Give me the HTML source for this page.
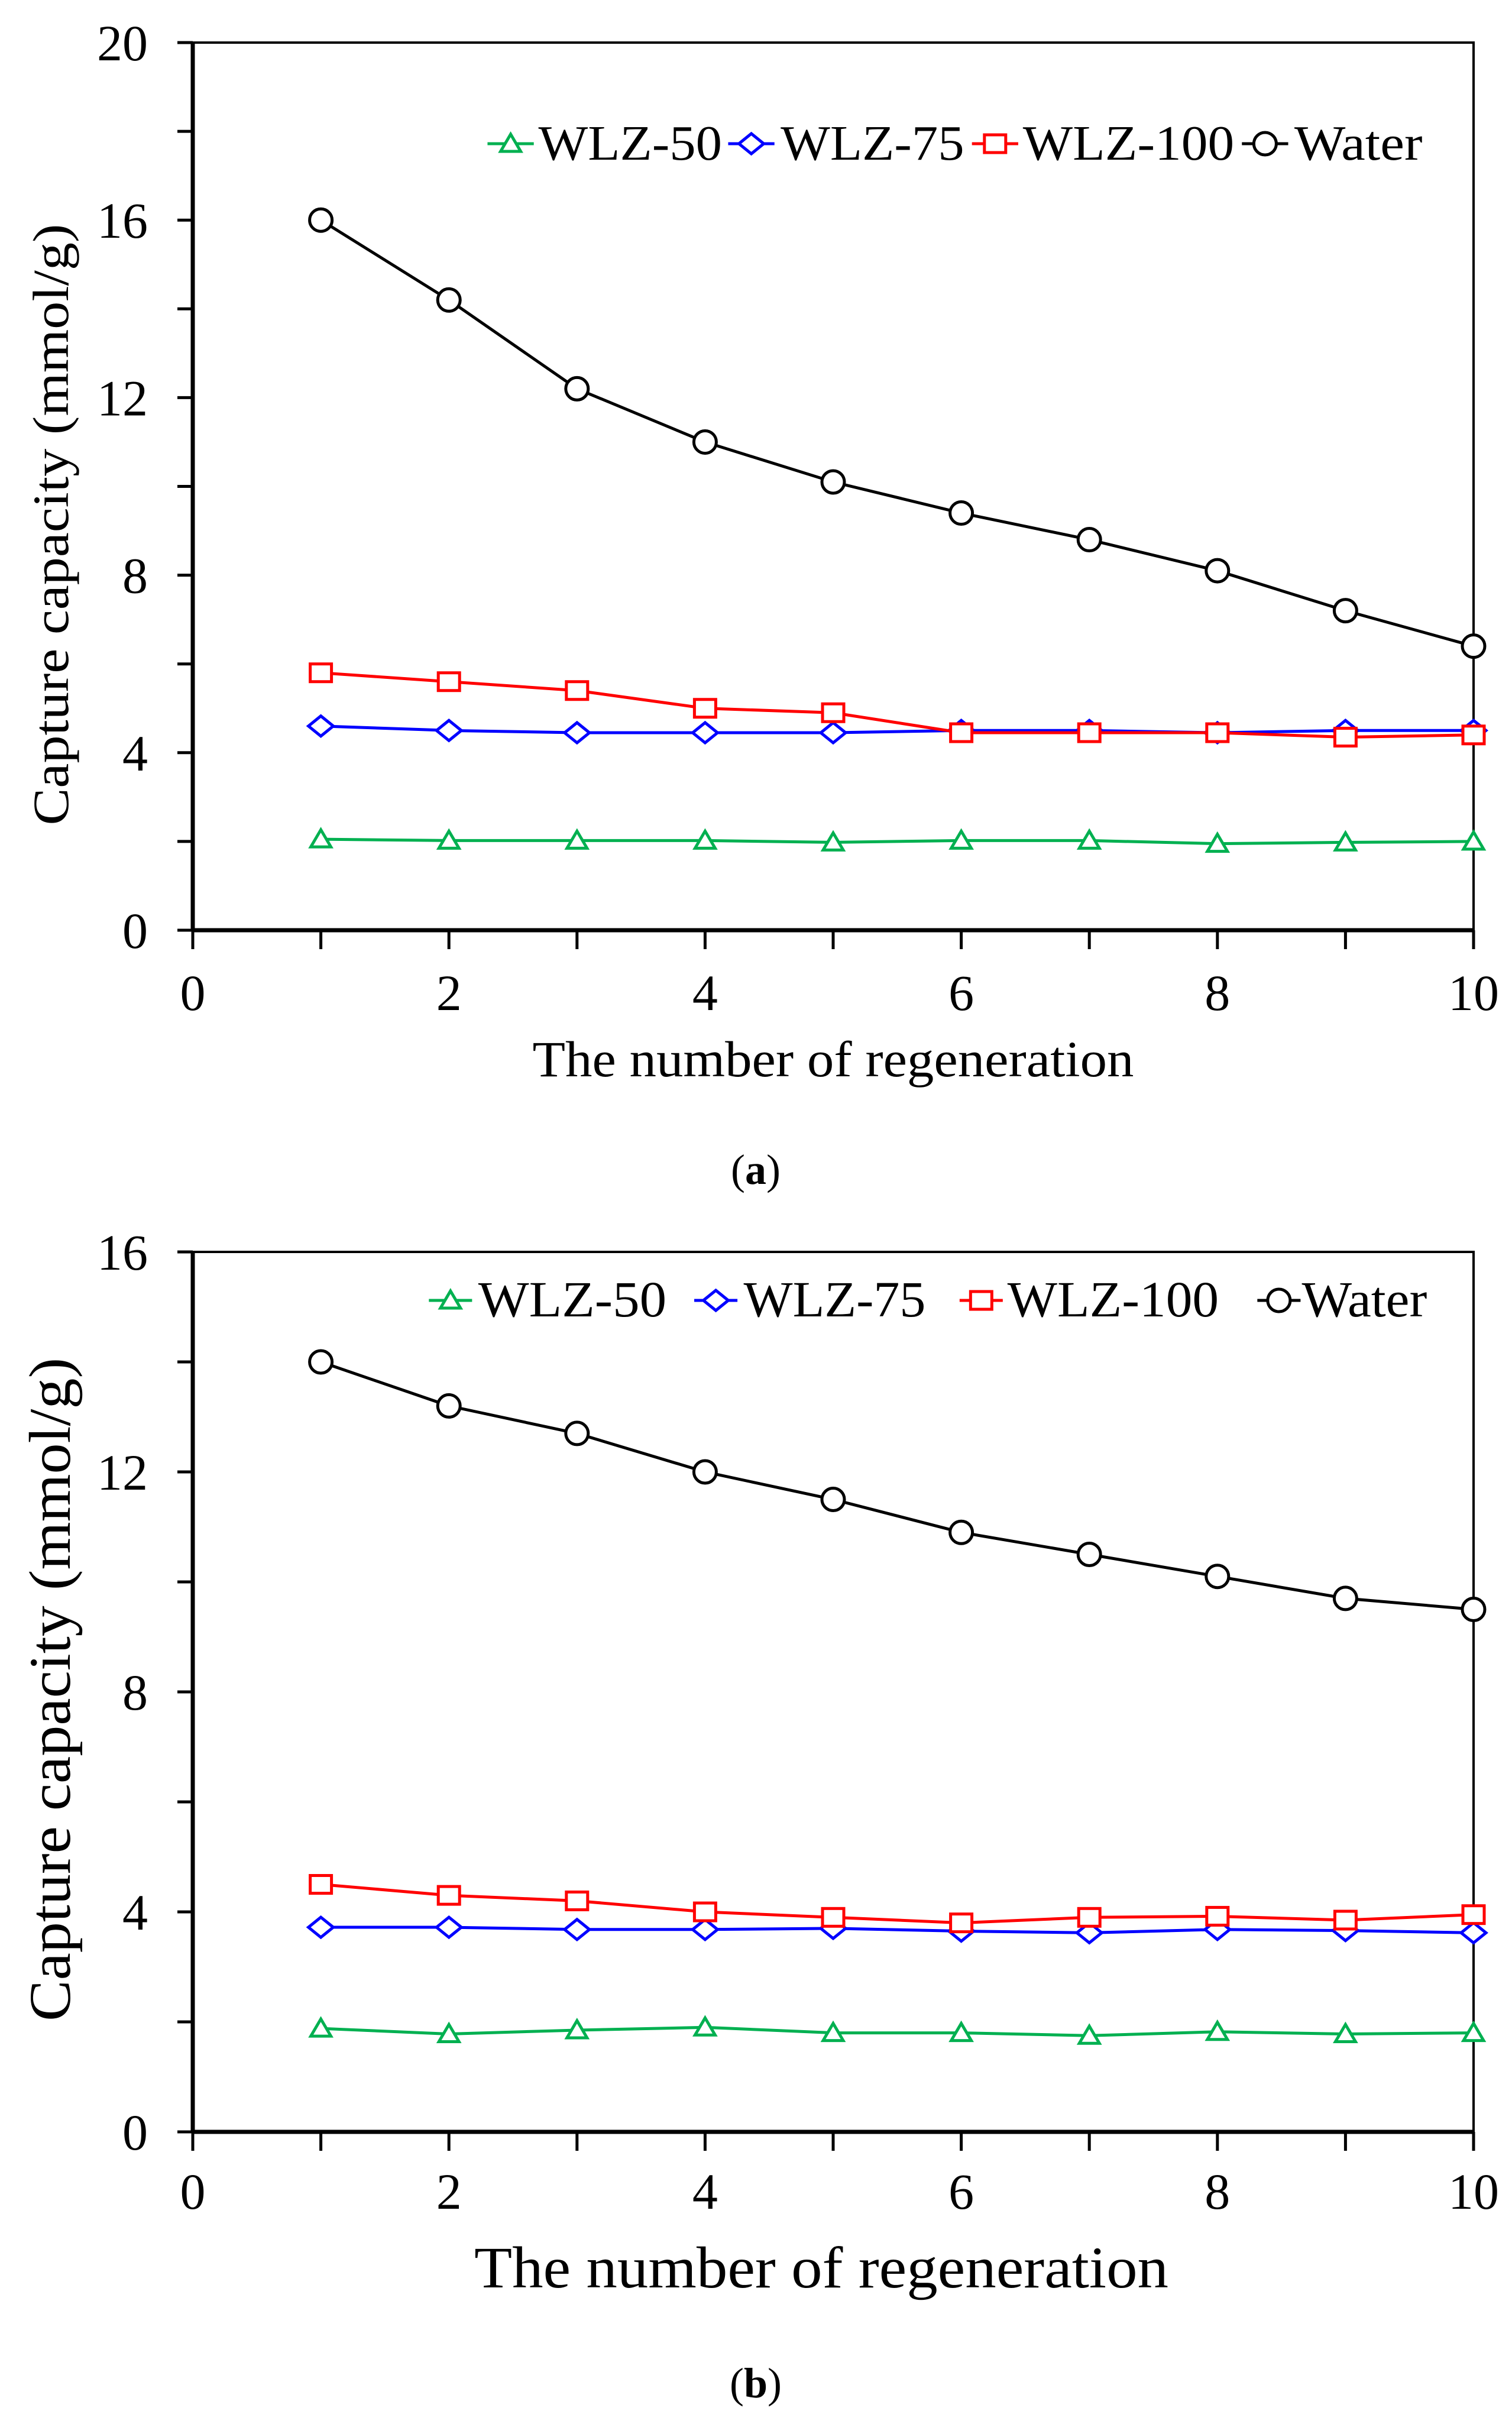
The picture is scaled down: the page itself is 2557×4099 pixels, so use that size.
<!DOCTYPE html>
<html><head><meta charset="utf-8">
<style>
html,body{margin:0;padding:0;background:#fff;}
svg{display:block;}
svg text{font-family:"Liberation Serif","Times New Roman",Times,serif;fill:#000;}
</style></head>
<body>
<svg id="fig" width="2557" height="4099" viewBox="0 0 2557 4099" xmlns="http://www.w3.org/2000/svg" font-family="Liberation Serif, Times New Roman, serif">
<rect width="2557" height="4099" fill="#fff"/>
</svg>
<script>
const xTicks = [0,2,4,6,8,10];
const cycles = [1,2,3,4,5,6,7,8,9,10];
const seriesNames = ["WLZ-50","WLZ-75","WLZ-100","Water"];
const yTicksA = [0,4,8,12,16,20];
const wlz50A = [2.05,2.02,2.02,2.02,1.98,2.02,2.02,1.95,1.98,2.0];
const wlz75A = [4.6,4.5,4.45,4.45,4.45,4.5,4.5,4.45,4.5,4.5];
const wlz100A = [5.8,5.6,5.4,5.0,4.9,4.45,4.45,4.45,4.35,4.4];
const waterA = [16,14.2,12.2,11,10.1,9.4,8.8,8.1,7.2,6.4];
const yTicksB = [0,4,8,12,16];
const wlz50B = [1.88,1.78,1.85,1.9,1.8,1.8,1.75,1.82,1.78,1.8];
const wlz75B = [3.72,3.72,3.68,3.68,3.7,3.65,3.62,3.68,3.66,3.62];
const wlz100B = [4.5,4.3,4.2,4.0,3.9,3.8,3.9,3.92,3.85,3.95];
const waterB = [14.0,13.2,12.7,12.0,11.5,10.9,10.5,10.1,9.7,9.5];

const NS="http://www.w3.org/2000/svg";
const svg=document.getElementById('fig');
const FF="Liberation Serif, Times New Roman, serif";
function mk(tag,attrs,parent){const e=document.createElementNS(NS,tag);for(const k in attrs)e.setAttribute(k,attrs[k]);if(tag==='text')e.setAttribute('font-family',FF);(parent||svg).appendChild(e);return e;}
const colors=["#00b050","#0000ff","#ff0000","#000000"];
const shapes=["tri","dia","sq","circ"];

function marker(g,shape,cx,cy,color){
  const st={fill:"#fff",stroke:color,"stroke-width":5};
  let e;
  if(shape==="circ"){e=mk('circle',Object.assign({cx:cx,cy:cy,r:19},st),g);}
  else if(shape==="sq"){e=mk('rect',Object.assign({x:cx-18,y:cy-15,width:36,height:30},st),g);}
  else if(shape==="dia"){e=mk('polygon',Object.assign({points:`${cx-21},${cy} ${cx},${cy-17} ${cx+21},${cy} ${cx},${cy+17}`},st),g);}
  else {e=mk('polygon',Object.assign({points:`${cx-17},${cy+13} ${cx},${cy-16} ${cx+17},${cy+13}`},st),g);}
  
  
  return e;
}

function chart(opt){
  const g=mk('g',{});
  
  
  const L=326,R=2492,T=opt.top,B=opt.bottom,ymax=opt.ymax;
  const xs=v=>L+(R-L)*v/10;
  const ys=v=>B-(B-T)*v/ymax;
  const fr=mk('rect',{x:L,y:T,width:R-L,height:B-T,fill:"none",stroke:"#000","stroke-width":4},g);
  
  
  mk('line',{x1:L,y1:T-2,x2:L,y2:B+2,stroke:"#000","stroke-width":7},g);
  mk('line',{x1:L-2,y1:B,x2:R+2,y2:B,stroke:"#000","stroke-width":7},g);
  const step=opt.yt[1]-opt.yt[0];
  for(let v=0;v<=ymax+1e-9;v+=step/2){
    const t=mk('line',{x1:L-26,y1:ys(v),x2:L,y2:ys(v),stroke:"#000","stroke-width":5},g);
    
    
  }
  opt.yt.forEach(v=>{
    const t=mk('text',{x:250,y:ys(v)+30,"text-anchor":"end","font-size":opt.fs},g);
    t.textContent=v;
    
    
  });
  for(let v=1;v<=10;v++){
    const t=mk('line',{x1:xs(v),y1:B,x2:xs(v),y2:B+32,stroke:"#000","stroke-width":5},g);
    
    
  }
  mk('line',{x1:L,y1:B,x2:L,y2:B+32,stroke:"#000","stroke-width":5},g);
  xTicks.forEach(v=>{
    const t=mk('text',{x:xs(v),y:opt.xly,"text-anchor":"middle","font-size":opt.fs},g);
    t.textContent=v;
    
    
  });
  const xt=mk('text',{x:(L+R)/2 + opt.xtoff,y:opt.xty,"text-anchor":"middle","font-size":opt.tfs,textLength:opt.xtw,lengthAdjust:"spacingAndGlyphs"},g);
  xt.textContent="The number of regeneration";
  
  
  const yt=mk('text',{x:0,y:0,"text-anchor":"middle","font-size":opt.tfs,textLength:opt.ytw,lengthAdjust:"spacingAndGlyphs",transform:`translate(${opt.ytx},${opt.ytc}) rotate(-90)`},g);
  yt.textContent="Capture capacity (mmol/g)";
  
  
  opt.data.forEach((arr,i)=>{
    const sg=mk('g',{},g);
    
    
    const pts=cycles.map((c,j)=>xs(c)+","+ys(arr[j])).join(" ");
    const pl=mk('polyline',{points:pts,fill:"none",stroke:colors[i],"stroke-width":5},sg);
    
    
    cycles.forEach((c,j)=>marker(sg,shapes[i],xs(c),ys(arr[j]),colors[i]));
  });
  const lg=mk('g',{},g);
  
  
  opt.leg.forEach((p,i)=>{
    const eg=mk('g',{},lg);
    
    
    mk('line',{x1:p[0],y1:opt.legy,x2:p[1],y2:opt.legy,stroke:colors[i],"stroke-width":5},eg);
    marker(eg,shapes[i],(p[0]+p[1])/2,opt.legy,colors[i]);
    const t=mk('text',{x:p[2],y:opt.legy+27,"font-size":opt.lfs,textLength:p[3]-p[2],lengthAdjust:"spacingAndGlyphs"},eg);
    t.textContent=seriesNames[i];
  });
  const cap=mk('text',{x:1278,y:opt.capy,"text-anchor":"middle","font-size":72},g);
  cap.innerHTML='(<tspan font-weight="bold">'+opt.cap+'</tspan>)';
  
  
}
const s=2.609;
chart({name:"chart-a",top:72,bottom:1573,ymax:20,yt:yTicksA,fs:86,tfs:86,
  xly:1708,xty:1820,xtoff:-0,xtw:1017,ytx:115,ytc:(145+535)/2*s,ytw:1017,
  data:[wlz50A,wlz75A,wlz100A,waterA],legy:243,lfs:84,
  leg:[[316*s,346*s,349*s,468*s],[472*s,502*s,506*s,625*s],[630*s,660*s,663*s,800*s],[805*s,835*s,839*s,922*s]],
  capy:2002,cap:"a"});
chart({name:"chart-b",top:2117,bottom:3605,ymax:16,yt:yTicksB,fs:86,tfs:100,
  xly:3735,xty:3868,xtoff:-20,xtw:1174,ytx:118,ytc:(880+1310)/2*s,ytw:1122,
  data:[wlz50B,wlz75B,wlz100B,waterB],legy:2199,lfs:86,
  leg:[[278*s,306*s,310*s,432*s],[450*s,478*s,482*s,600*s],[622*s,650*s,653*s,790*s],[815*s,843*s,840*s+10,925*s]],
  capy:4054,cap:"b"});
</script>
</body></html>
